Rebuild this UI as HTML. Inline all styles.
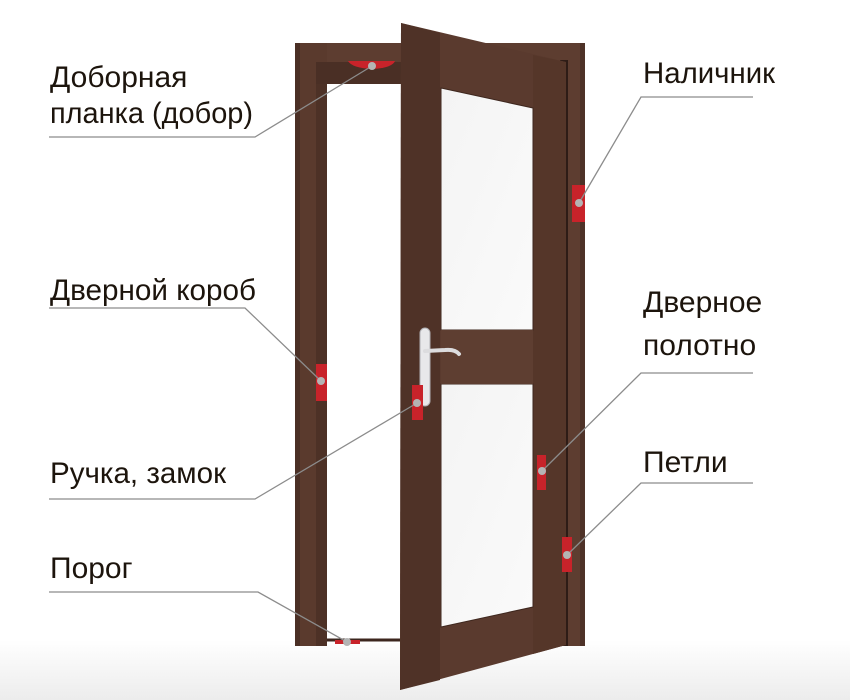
<!DOCTYPE html>
<html><head><meta charset="utf-8"><style>
html,body{margin:0;padding:0;background:#fff;}
svg{display:block}
text{font-family:"Liberation Sans",sans-serif;font-size:30px;fill:#1c140c}
</style></head><body>
<svg width="850" height="700" viewBox="0 0 850 700" xmlns="http://www.w3.org/2000/svg">
<defs>
<linearGradient id="fl" x1="0" y1="0" x2="0" y2="1"><stop offset="0" stop-color="#fff"/><stop offset="1" stop-color="#ececec"/></linearGradient>
<linearGradient id="gl" x1="0" y1="0" x2="1" y2="1"><stop offset="0" stop-color="#f4f4f4"/><stop offset="1" stop-color="#fafafa"/></linearGradient>
</defs>
<rect x="0" y="640" width="850" height="60" fill="url(#fl)"/>
<!-- frame -->
<rect x="295" y="43" width="290" height="42" fill="#5d3d30"/>
<rect x="295" y="43" width="32" height="603" fill="#5a3a2d"/>
<rect x="295" y="43" width="5" height="603" fill="#4a2f25"/>
<rect x="316" y="62" width="11" height="584" fill="#4d3126"/>
<rect x="316" y="62" width="90" height="22" fill="#4a2f25"/>
<rect x="327" y="84" width="75" height="556" fill="#fff"/>
<rect x="560" y="43" width="25" height="603" fill="#5d3d30"/>
<rect x="560" y="60" width="8" height="586" fill="#2e1c16"/>
<rect x="580" y="43" width="5" height="603" fill="#4e3228"/>
<line x1="327" y1="640" x2="400" y2="640" stroke="#3c261e" stroke-width="3"/>
<!-- door leaf -->
<polygon points="401,23 566,62 566,645 400,690" fill="#5a3a2e"/>
<polygon points="401,23 440,33 440,680 400,690" fill="#4f3227"/>
<polygon points="533,55 566,62 566,645 533,654" fill="#553629"/>
<polygon points="441,88 533,108 533,330 441,330" fill="url(#gl)" stroke="#3e271e" stroke-width="1"/>
<polygon points="441,384 533,384 533,607 441,627" fill="url(#gl)" stroke="#3e271e" stroke-width="1"/>
<rect x="441" y="330" width="92" height="54" fill="#5e3e31"/>
<!-- handle -->
<rect x="420" y="328" width="10" height="78" rx="5" fill="#e8e8ea" stroke="#b0b0b4" stroke-width="1"/>
<path d="M425 351 L445 350 Q455 349 459 354" stroke="#dcdcde" stroke-width="4" fill="none" stroke-linecap="round"/>
<!-- markers -->
<g fill="#c8232a">
<path d="M348 61 L395 61 Q392 68 372 69 Q352 68 348 61 Z"/>
<rect x="572" y="185" width="13" height="37"/>
<rect x="316" y="364" width="11" height="37"/>
<rect x="412" y="385" width="11" height="35"/>
<rect x="537" y="455" width="9" height="35"/>
<rect x="562" y="537" width="10" height="35"/>
<rect x="335" y="640" width="25" height="4"/>
</g>
<g stroke="#8c8c8c" stroke-width="1.3" fill="none">
<polyline points="49,137 255,137 372,66"/>
<polyline points="49,308 245,308 321,381"/>
<polyline points="49,499 255,499 417,403"/>
<polyline points="49,592 258,592 347,642"/>
<polyline points="753,97 641,97 579,203"/>
<polyline points="753,373 641,373 542,471"/>
<polyline points="753,483 641,483 567,555"/>
</g>
<g fill="#b4b4b4">
<circle cx="372" cy="66" r="4"/><circle cx="579" cy="203" r="4"/><circle cx="321" cy="381" r="4"/>
<circle cx="417" cy="403" r="4"/><circle cx="542" cy="471" r="4"/><circle cx="567" cy="555" r="4"/>
<circle cx="347" cy="642" r="4"/>
</g>
<text x="50" y="87">Доборная</text>
<text x="50" y="123" textLength="203" lengthAdjust="spacingAndGlyphs">планка (добор)</text>
<text x="50" y="300" textLength="206" lengthAdjust="spacingAndGlyphs">Дверной короб</text>
<text x="50" y="483" textLength="176" lengthAdjust="spacingAndGlyphs">Ручка, замок</text>
<text x="50" y="578">Порог</text>
<text x="643" y="83" textLength="132" lengthAdjust="spacingAndGlyphs">Наличник</text>
<text x="643" y="312">Дверное</text>
<text x="643" y="355">полотно</text>
<text x="643" y="472">Петли</text>
</svg>
</body></html>
